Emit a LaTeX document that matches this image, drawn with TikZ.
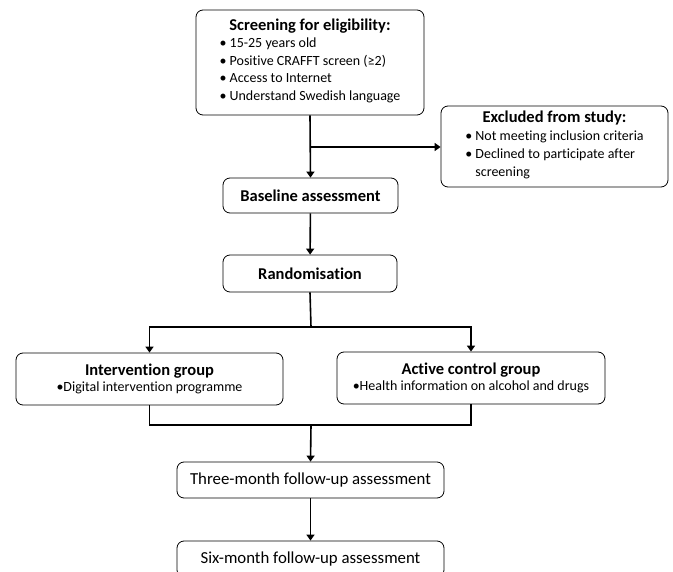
\documentclass[tikz,border=0pt]{standalone}
\usepackage{fontspec}
\setmainfont{Carlito}[Ligatures=NoCommon]
\usetikzlibrary{arrows.meta}
\tikzset{
  stage/.style={draw,line width=0.8pt,rounded corners=7pt,fill=white,inner sep=0pt,align=center},
  conn/.style={line width=1.6pt,-{Triangle[width=8pt,length=6pt]}},
  link/.style={line width=1.6pt}
}
\newcommand{\bul}{\textbullet\ }
\newcommand{\headfont}{\bfseries\fontsize{16.5}{19}\selectfont}

\begin{document}
\begin{tikzpicture}[x=1pt,y=1pt,line cap=butt,line join=miter]
\path[use as bounding box] (0,0) rectangle (673,-572);
\node[stage,minimum width=228pt,minimum height=105pt] (screen) at (310,-62.5)
  {{\headfont Screening for eligibility:}\\[1pt]
   \fontsize{14}{17.5}\selectfont\begin{tabular}{@{}l@{}}
   \bul 15-25 years old\\ \bul Positive CRAFFT screen (≥2)\\
   \bul Access to Internet\\ \bul Understand Swedish language\end{tabular}};
\node[stage,minimum width=227pt,minimum height=81pt] (excl) at (554.5,-146.5)
  {{\headfont Excluded from study:}\\[2pt]
   \fontsize{14}{18}\selectfont\begin{tabular}{@{}l@{}}
   \bul Not meeting inclusion criteria\\ \bul Declined to participate after\\
   \phantom{\bul}screening\end{tabular}};
\node[stage,minimum width=175pt,minimum height=35pt,font=\headfont] (base) at (310.5,-195.5) {Baseline assessment};
\node[stage,minimum width=174pt,minimum height=37pt,font=\headfont] (rand) at (310,-273.5) {Randomisation};
\node[stage,minimum width=267pt,minimum height=52pt] (interv) at (149.5,-379)
  {{\headfont Intervention group}\\[3pt]
   \fontsize{14}{17}\selectfont\textbullet Digital intervention programme};
\node[stage,minimum width=268pt,minimum height=52pt] (ctrl) at (471,-378)
  {{\headfont Active control group}\\[3pt]
   \fontsize{14}{17}\selectfont\textbullet Health information on alcohol and drugs};
\node[stage,minimum width=267pt,minimum height=36pt,font=\fontsize{16.8}{19}\selectfont] (three) at (310.5,-480) {Three-month follow-up assessment};
\node[stage,minimum width=267pt,minimum height=36pt,font=\fontsize{16.8}{19}\selectfont] (six) at (310.5,-559) {Six-month follow-up assessment};
% connectors
\coordinate (toexcl) at (311,-147);
\coordinate (fork) at (311,-327);
\coordinate (join) at (311,-425);
\draw[conn] (screen.south) -- (base.north);
\draw[conn] (toexcl) -- (excl.west |- toexcl);
\draw[conn] (base) -- (rand);
\draw[link] (rand.south) -- (fork);
\draw[conn] (fork) -| (interv.north);
\draw[conn] (fork) -| (ctrl.north);
\draw[link] (interv.south) |- (join) -| (ctrl.south);
\draw[conn] (join) -- (three.north);
\draw[conn] (three) -- (six);
\end{tikzpicture}
\end{document}
